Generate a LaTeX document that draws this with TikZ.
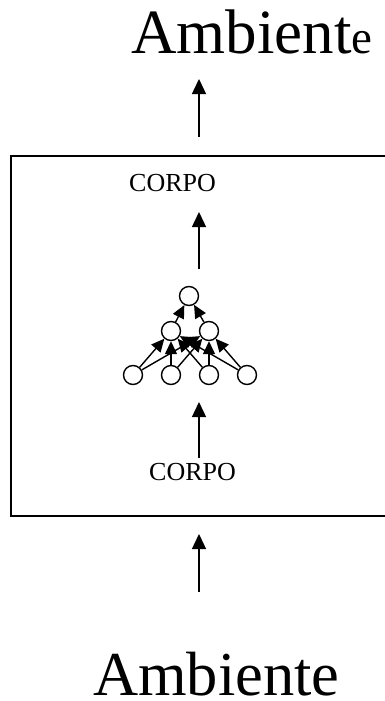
\documentclass[tikz,border=0pt]{standalone}
\usepackage{fontspec}
\setmainfont{Liberation Serif}
\usetikzlibrary{arrows.meta}
\begin{document}
\begin{tikzpicture}[x=1pt,y=-1pt,
  arr/.style={line width=1.4pt,-{Triangle[length=15pt,width=14pt]}},
  narr/.style={line width=1.4pt,-{Triangle[length=13pt,width=12pt]}},
  neuron/.style={circle,draw,line width=1.4pt,minimum size=19pt,inner sep=0pt},
  bigtext/.style={inner sep=0pt,anchor=base west,text depth=0pt},
  lab/.style={font=\fontsize{26}{26}\selectfont,inner sep=0pt,anchor=base west}]
\useasboundingbox (0,0) rectangle (384,701);
\fill[white] (0,0) rectangle (384,701);
% box (extends past the right edge)
\node[draw,line width=2pt,minimum width=390pt,minimum height=360pt,inner sep=0pt,anchor=north west] (box) at (10,155) {};
% texts
\node[bigtext] (ambtop) at (131,53) {{\fontsize{63}{63}\selectfont Ambient}{\fontsize{47}{47}\selectfont e}};
\node[bigtext] (ambbot) at (93,695) {\fontsize{62.5}{62.5}\selectfont Ambiente};
\node[lab] (corpotop) at (129,191) {CORPO};
\node[lab] (corpobot) at (149,480) {CORPO};
% arrow end points
\coordinate (a1) at (199,137); \coordinate (a2) at (199,79);
\coordinate (b1) at (199,269); \coordinate (b2) at (199,212);
\coordinate (c1) at (199,458); \coordinate (c2) at (199,402);
\coordinate (d1) at (199,592); \coordinate (d2) at (199,534);
\draw[arr] (a1) -- (a2);
\draw[arr] (b1) -- (b2);
\draw[arr] (c1) -- (c2);
\draw[arr] (d1) -- (d2);
% network
\node[neuron] (t) at (189,296) {};
\node[neuron] (m1) at (171,331) {};
\node[neuron] (m2) at (209,331) {};
\node[neuron] (n1) at (133,375) {};
\node[neuron] (n2) at (171,375) {};
\node[neuron] (n3) at (209,375) {};
\node[neuron] (n4) at (247,375) {};
\foreach \i in {n1,n2,n3,n4}{
  \draw[narr] (\i) -- (m1);
  \draw[narr] (\i) -- (m2);
}
\draw[narr] (m1) -- (t);
\draw[narr] (m2) -- (t);
\end{tikzpicture}
\end{document}
